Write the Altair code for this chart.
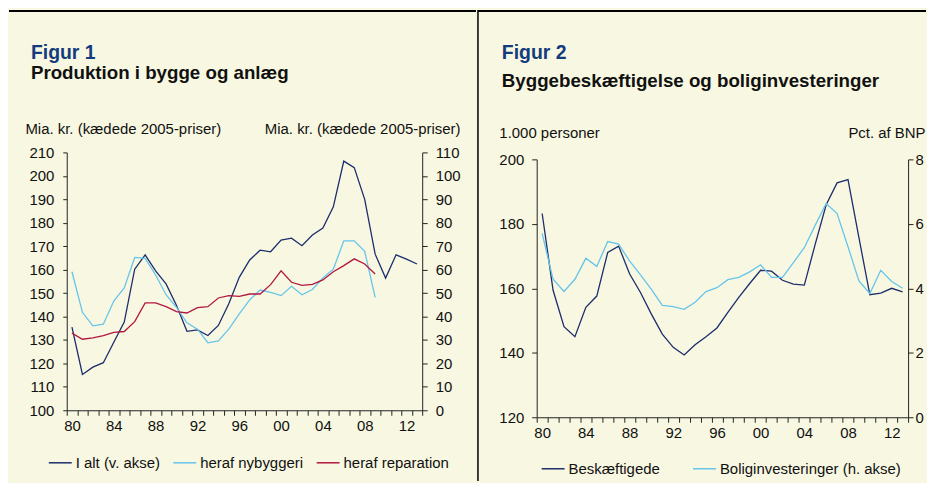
import altair as alt
import pandas as pd

# ---------------- data ----------------
years = list(range(1980, 2014))
yy = [f"{y % 100:02d}" for y in years]
label_years = ["80", "84", "88", "92", "96", "00", "04", "08", "12"]

# Figur 1 (Mia. kr., kædede 2005-priser)
fig1_i_alt = [135.5, 115.3, 118.4, 120.3, 129.0, 137.6, 160.2, 166.3, 159.5, 153.9,
              144.7, 133.7, 134.3, 131.9, 136.2, 145.4, 156.7, 164.1, 168.3, 167.6,
              172.6, 173.4, 170.2, 174.8, 177.7, 186.8, 206.3, 203.5, 190.0, 166.6,
              156.4, 166.3, 164.5, 162.4]
fig1_nybyggeri = [59.1, 41.8, 36.0, 36.7, 46.6, 52.2, 65.2, 64.8, 57.7, 49.3,
                  43.9, 37.3, 34.6, 28.8, 29.6, 34.6, 41.1, 47.1, 51.3, 50.3,
                  48.9, 52.9, 49.3, 51.5, 56.4, 60.2, 72.3, 72.3, 67.8, 48.2]
fig1_reparation = [32.9, 30.3, 30.9, 31.8, 33.2, 33.6, 37.8, 45.8, 45.8, 44.2,
                   42.1, 41.5, 43.8, 44.2, 47.9, 48.9, 48.6, 49.6, 49.6, 53.6,
                   59.5, 54.6, 53.3, 53.7, 55.6, 59.1, 61.7, 64.6, 62.4, 58.1]

# Figur 2
fig2_beskaeftigede = [183.2, 159.4, 148.1, 145.0, 154.1, 157.6, 171.1, 173.1, 164.5, 158.7,
                      152.0, 145.8, 141.7, 139.3, 142.5, 145.0, 147.7, 152.5, 157.2, 161.5,
                      165.6, 165.3, 162.5, 161.3, 161.0, 173.7, 185.9, 192.7, 193.7, 175.7,
                      158.0, 158.5, 160.0, 158.9]
fig2_bolig = [5.70, 4.28, 3.90, 4.28, 4.93, 4.68, 5.45, 5.37, 4.85, 4.42,
              3.97, 3.47, 3.43, 3.35, 3.57, 3.90, 4.02, 4.27, 4.34, 4.51,
              4.73, 4.34, 4.34, 4.80, 5.26, 5.96, 6.63, 6.32, 5.29, 4.23,
              3.84, 4.56, 4.21, 4.00]

s1 = ["I alt (v. akse)", "heraf nybyggeri", "heraf reparation"]
c1 = ["#1C2C6C", "#66C4EB", "#B2163F"]
s2 = ["Beskæftigede", "Boliginvesteringer (h. akse)"]
c2 = ["#1C2C6C", "#66C4EB"]

BG = "#F8F8E2"
INK = "#111111"
NAVY = "#123C7D"
FONT = "Liberation Sans"

n1 = len(fig1_nybyggeri)
df1a = pd.DataFrame({"yy": yy, "value": fig1_i_alt, "series": s1[0]})
df1b = pd.DataFrame({"yy": yy[:n1] * 2,
                     "value": fig1_nybyggeri + fig1_reparation,
                     "series": [s1[1]] * n1 + [s1[2]] * n1})
df2a = pd.DataFrame({"yy": yy, "value": fig2_beskaeftigede, "series": s2[0]})
df2b = pd.DataFrame({"yy": yy, "value": fig2_bolig, "series": s2[1]})

one = pd.DataFrame({"k": [0]})

js_labels = "[" + ",".join("'%s'" % l for l in label_years) + "]"


def xenc():
    return alt.X(
        "yy:O",
        scale=alt.Scale(type="band", domain=yy, paddingInner=0, paddingOuter=0),
        bandPosition=0.5,
        axis=alt.Axis(title=None, labelAngle=0, tickBand="extent", tickSize=5,
                      labelPadding=3, labelOverlap=False,
                      labelExpr="indexof(%s, datum.label) >= 0 ? datum.label : ''" % js_labels),
    )


def yaxis(orient, vals, title, tx, ty, align, tick, pad):
    return alt.Axis(orient=orient, values=vals, grid=False, tickSize=tick,
                    labelPadding=pad, title=title, titleAngle=0, titleAlign=align,
                    titleBaseline="middle", titleX=tx, titleY=ty)


def cenc(domain, rng, lx, ly, colpad):
    return alt.Color("series:N", scale=alt.Scale(domain=domain, range=rng),
                     legend=alt.Legend(orient="none", legendX=lx, legendY=ly,
                                       direction="horizontal", title=None,
                                       columnPadding=colpad, labelLimit=400))


def title_layer(t1, t2, x, y1, y2):
    a = alt.Chart(pd.DataFrame({"t": [t1]})).mark_text(
        align="left", baseline="alphabetic", fontSize=19.5, fontWeight="bold",
        color=NAVY, font=FONT).encode(text="t:N", x=alt.value(x), y=alt.value(y1))
    b = alt.Chart(pd.DataFrame({"t": [t2]})).mark_text(
        align="left", baseline="alphabetic", fontSize=18.8, fontWeight="bold",
        color=INK, font=FONT).encode(text="t:N", x=alt.value(x), y=alt.value(y2))
    return a, b


# both panels share the same origin row (page y = 151)
W1, H1 = 357, 259
W2, H2 = 373, 266
R2 = [266, 7]  # Figur 2 plot starts 7px lower than Figur 1

# -------- Figur 1 --------
f1_left = alt.Chart(df1a).mark_line(strokeWidth=1.3).encode(
    x=xenc(),
    y=alt.Y("value:Q", scale=alt.Scale(domain=[100, 210], nice=False, zero=False),
            axis=yaxis("left", list(range(100, 211, 10)), "Mia. kr. (kædede 2005-priser)",
                       -42, -24, "left", 4, 9)),
    color=cenc(s1, c1, -19, 299, 10),
)
f1_right = alt.Chart(df1b).mark_line(strokeWidth=1.3).encode(
    x=xenc(),
    y=alt.Y("value:Q", scale=alt.Scale(domain=[0, 110], nice=False, zero=False),
            axis=yaxis("right", list(range(0, 111, 10)), "Mia. kr. (kædede 2005-priser)",
                       38, -24, "right", 5, 8)),
    color=cenc(s1, c1, -19, 299, 10),
)
t1a, t1b = title_layer("Figur 1", "Produktion i bygge og anlæg", -36, -94, -74)
top1 = alt.Chart(one).mark_rule(color="#000000", strokeWidth=2).encode(
    x=alt.value(-58), x2=alt.value(411), y=alt.value(-142))

p1 = alt.layer(f1_left, f1_right, t1a, t1b, top1).resolve_scale(y="independent").properties(
    width=W1, height=H1)

# -------- Figur 2 --------
f2_left = alt.Chart(df2a).mark_line(strokeWidth=1.3).encode(
    x=xenc(),
    y=alt.Y("value:Q", scale=alt.Scale(domain=[120, 200], nice=False, zero=False, range=R2),
            axis=yaxis("left", list(range(120, 201, 20)), "1.000 personer",
                       -38, -20, "left", 5, 8)),
    color=cenc(s2, c2, 4, 305, 30),
)
f2_right = alt.Chart(df2b).mark_line(strokeWidth=1.3).encode(
    x=xenc(),
    y=alt.Y("value:Q", scale=alt.Scale(domain=[0, 8], nice=False, zero=False, range=R2),
            axis=yaxis("right", list(range(0, 9, 2)), "Pct. af BNP",
                       17, -20, "right", 5, 2)),
    color=cenc(s2, c2, 4, 305, 30),
)
t2a, t2b = title_layer("Figur 2", "Byggebeskæftigelse og boliginvesteringer", -35, -94, -66)
top2 = alt.Chart(one).mark_rule(color="#000000", strokeWidth=2).encode(
    x=alt.value(-59), x2=alt.value(391), y=alt.value(-142))
div2 = alt.Chart(one).mark_rule(color="#000000", strokeWidth=1.5).encode(
    x=alt.value(-59), y=alt.value(-143), y2=alt.value(330))

p2 = alt.layer(f2_left, f2_right, t2a, t2b, top2, div2).resolve_scale(y="independent").properties(
    width=W2, height=H2)

chart = alt.hconcat(p1, p2, spacing=0).resolve_scale(color="independent").properties(
    padding=0, background=BG
).configure(font=FONT).configure_view(stroke=None).configure_axis(
    domainColor="#222222", tickColor="#222222", labelColor=INK, titleColor=INK,
    labelFontSize=15, titleFontSize=15, titleFontWeight="normal",
    labelFont=FONT, titleFont=FONT, domainWidth=1, tickWidth=1,
).configure_legend(
    labelFontSize=15, labelColor=INK, labelFont=FONT, symbolType="stroke",
    symbolSize=529, symbolStrokeWidth=1.5, labelOffset=3, padding=0,
)

chart.save("out.html", embed_options={"renderer": "svg", "actions": False})
